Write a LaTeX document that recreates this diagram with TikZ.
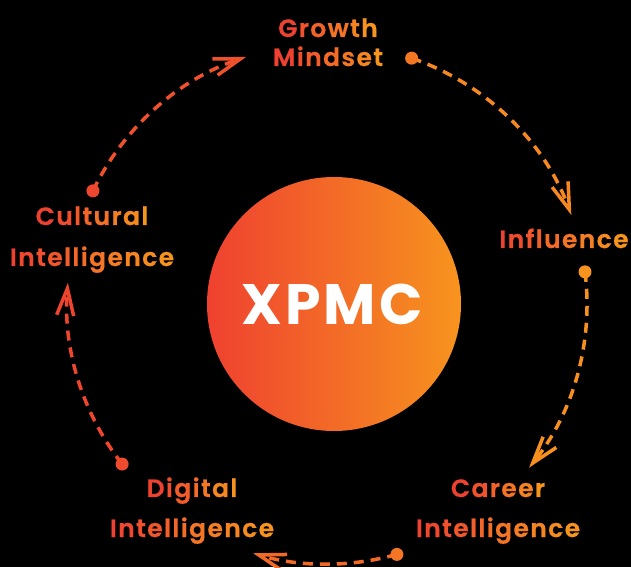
\documentclass[tikz,border=0pt]{standalone}
\usepackage{fontspec}
\usetikzlibrary{arrows.meta}
\newfontfamily\labfont{Poppins SemiBold}[FakeBold=0.7]
\newfontfamily\titlefont{Poppins Bold}
\definecolor{cR}{RGB}{239,65,48}
\definecolor{cO}{RGB}{247,148,30}
\newcount\gIdx
\newcount\gMax
\newcommand\gtext[2]{\gMax=#1\relax\advance\gMax by -1\relax\global\gIdx=0\relax\gStep#2\relax}
\def\gStep#1{\ifx\relax#1\else\gLetter{#1}\expandafter\gStep\fi}
\newcommand\gLetter[1]{\pgfmathtruncatemacro\gPct{100*\gIdx/\gMax}\textcolor{cO!\gPct!cR}{#1}\ifnum\gIdx<\gMax\kern1.4pt\fi\global\advance\gIdx by 1\relax}
\begin{document}
\begin{tikzpicture}[x=1pt,y=1pt,
  lab/.style={anchor=base, inner sep=0pt, font=\labfont\fontsize{25}{29}\selectfont},
  link/.style={line width=3.5pt, dash pattern=on 10pt off 7pt, -{Straight Barb[length=27pt,width=17pt]}}]
\fill[black] (0,0) rectangle (631,567);
\useasboundingbox (0,0) rectangle (631,567);
\coordinate (ring) at (327,263);
\node[circle, minimum size=254pt, inner sep=0pt, left color=cR, right color=cO] (core) at (334,263) {};
\node[anchor=base, inner sep=0pt, text=white, font=\titlefont\fontsize{57}{60}\selectfont] (title) at (332,242) {X\kern3pt P\kern3pt M\kern3pt C};
% start points
\coordinate (s1) at ([shift={(71:260)}]ring);
\coordinate (s2) at ([shift={(7.1:260)}]ring);
\coordinate (s3) at ([shift={(-74.4:260)}]ring);
\coordinate (s4) at ([shift={(218:260)}]ring);
\coordinate (s5) at ([shift={(154.2:260)}]ring);
% connectors
\draw[link, cO!85!cR] (s1) arc[start angle=71, end angle=20, radius=260];
\draw[link, cO!95!cR] (s2) arc[start angle=7.1, end angle=-39, radius=260];
\draw[link, cO!49!cR] (s3) arc[start angle=-74.4, end angle=-106.5, radius=260];
\draw[link, cO!5!cR] (s4) arc[start angle=218, end angle=175.3, radius=260];
\draw[link, cO!19!cR] (s5) arc[start angle=154.2, end angle=108.1, radius=260];
% dots
\fill[cO!66!cR] (s1) circle[radius=6.5];
\fill[cO!99!cR] (s2) circle[radius=6.5];
\fill[cO!64!cR] (s3) circle[radius=6.5];
\fill[cO!12!cR] (s4) circle[radius=6.5];
\fill[cO!6!cR] (s5) circle[radius=6.5];
% labels
\node[lab] (gm1) at (328,530) {\gtext{6}{Growth}};
\node[lab] (gm2) at (328,501) {\gtext{7}{Mindset}};
\node[lab] (inf) at (564,319) {\gtext{9}{Influence}};
\node[lab] (ci1) at (92,342) {\gtext{8}{Cultural}};
\node[lab] (ci2) at (92,301) {\gtext{12}{Intelligence}};
\node[lab] (ca1) at (498,70) {\gtext{6}{Career}};
\node[lab] (ca2) at (498,30) {\gtext{12}{Intelligence}};
\node[lab] (di1) at (192,70) {\gtext{7}{Digital}};
\node[lab] (di2) at (192,30) {\gtext{12}{Intelligence}};
\end{tikzpicture}
\end{document}
